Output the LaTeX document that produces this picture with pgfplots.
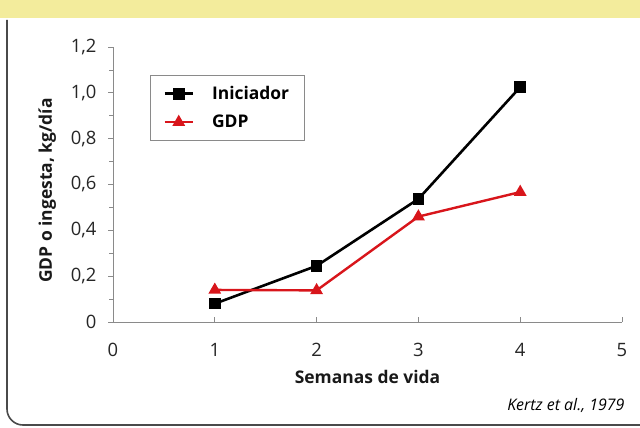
\documentclass[border=0pt]{standalone}
\usepackage{pgfplots}
\pgfplotsset{compat=1.18}
\usepackage{fontspec}
\setmainfont{Open Sans}
\definecolor{headyellow}{HTML}{F3EC9C}
\definecolor{gdpred}{HTML}{D8151B}
\definecolor{axisgray}{HTML}{8A8A8A}
\definecolor{framegray}{HTML}{4A4A4A}
\begin{document}
\begin{tikzpicture}[x=1bp,y=1bp]
\useasboundingbox (0,0) rectangle (640,427);
\fill[white] (0,0) rectangle (640,427);
\fill[headyellow] (0,409) rectangle (640,427);
\draw[framegray, line width=1.6bp, rounded corners=16bp] (7,407) -- (7,2) -- (640,2);
\begin{axis}[
    at={(113bp,105bp)},
    anchor=south west,
    scale only axis,
    width=509bp,
    height=275bp,
    xmin=0, xmax=5,
    ymin=0, ymax=1.2,
    axis lines=left,
    axis line style={axisgray, line width=0.7bp, -},
    xtick={0,1,2,3,4,5},
    ytick={0,0.2,0.4,0.6,0.8,1.0,1.2},
    minor ytick={0.1,0.3,0.5,0.7,0.9,1.1},
    tick align=outside,
    major tick length=5bp,
    minor tick length=4bp,
    tick style={axisgray, line width=0.7bp},
    x tick style={yshift=5bp},
    /pgf/number format/assume math mode=true,
    /pgf/number format/use comma,
    yticklabel={\ifdim\tick pt=0pt 0\else\pgfmathprintnumber[fixed,fixed zerofill,precision=1]{\tick}\fi},
    xticklabel style={yshift=-13bp},
    yticklabel style={xshift=-8bp},
    tick label style={font=\fontsize{18.5}{21}\selectfont, text=black!85},
    xlabel={Semanas de vida},
    ylabel={GDP o ingesta, kg/día},
    label style={font=\bfseries\fontsize{17.5}{21}\selectfont, text=black!90},
    xlabel style={yshift=-6bp},
    ylabel style={yshift=8bp, xshift=-6bp},
    legend style={
        at={(0.073,0.898)}, anchor=north west,
        draw=axisgray, line width=0.6bp,
        inner xsep=13bp, inner ysep=9bp,
        row sep=10bp,
        font=\bfseries\fontsize{17.5}{20}\selectfont,
        cells={anchor=west},
    },
    legend image code/.code={
        \draw[#1] (0bp,0bp) -- (28bp,0bp);
        \draw[#1, mark repeat=2, mark phase=2] plot coordinates {(0bp,0bp) (14bp,0bp) (28bp,0bp)};
    },
    clip=false,
]
\addplot[black, line width=2.6bp, mark=square*, mark size=4.5bp, mark options={solid}] coordinates {
    (1,0.08) (2,0.245) (3,0.537) (4,1.025)
};
\addlegendentry{\hspace{16bp}Iniciador}
\addplot[gdpred, line width=2.4bp, mark=triangle*, mark size=5bp, mark options={solid}] coordinates {
    (1,0.14) (2,0.138) (3,0.46) (4,0.567)
};
\addlegendentry{\hspace{16bp}GDP}
\end{axis}
\node[anchor=east, font=\itshape\fontsize{16}{19}\selectfont] at (628,22) {Kertz et al., 1979};
\end{tikzpicture}
\end{document}
